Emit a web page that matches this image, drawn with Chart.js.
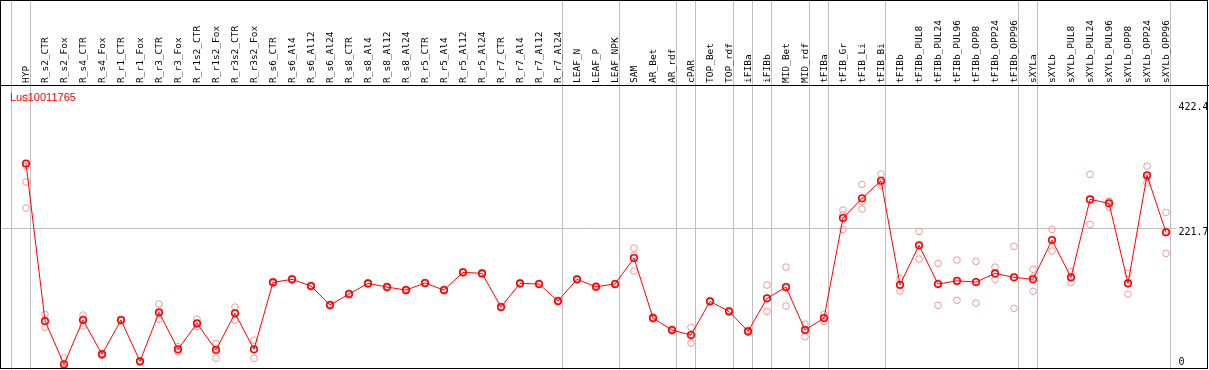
<!DOCTYPE html>
<html>
<head>
<meta charset="utf-8">
<script src="https://cdn.jsdelivr.net/npm/chart.js@4.4.1/dist/chart.umd.min.js"></script>
<style>
  body { margin: 0; background: #fff; }
  canvas { display: block; }
</style>
</head>
<body>
<canvas id="chart" width="1209" height="370"></canvas>
<script>
const geneName = 'Lus10011765';

const categories = [
  'HYP', 'R_s2_CTR', 'R_s2_Fox', 'R_s4_CTR', 'R_s4_Fox', 'R_r1_CTR', 'R_r1_Fox', 'R_r3_CTR', 'R_r3_Fox',
  'R_r1s2_CTR', 'R_r1s2_Fox', 'R_r3s2_CTR', 'R_r3s2_Fox', 'R_s6_CTR', 'R_s6_Al4', 'R_s6_Al12', 'R_s6_Al24',
  'R_s8_CTR', 'R_s8_Al4', 'R_s8_Al12', 'R_s8_Al24', 'R_r5_CTR', 'R_r5_Al4', 'R_r5_Al12', 'R_r5_Al24',
  'R_r7_CTR', 'R_r7_Al4', 'R_r7_Al12', 'R_r7_Al24', 'LEAF_N', 'LEAF_P', 'LEAF_NPK', 'SAM', 'AR_Bet', 'AR_rdf',
  'cPAR', 'TOP_Bet', 'TOP_rdf', 'iFIBa', 'iFIBb', 'MID_Bet', 'MID_rdf', 'tFIBa', 'tFIB_Gr', 'tFIB_Li', 'tFIB_Bi',
  'tFIBb', 'tFIBb_PUL8', 'tFIBb_PUL24', 'tFIBb_PUL96', 'tFIBb_OPP8', 'tFIBb_OPP24', 'tFIBb_OPP96',
  'sXYLa', 'sXYLb', 'sXYLb_PUL8', 'sXYLb_PUL24', 'sXYLb_PUL96', 'sXYLb_OPP8', 'sXYLb_OPP24', 'sXYLb_OPP96'
];

// mean expression per sample (red line)
const meanValues = [
  321.6, 78.9, 12.2, 80.4, 27.6, 80.4, 16.8, 92.3, 35.3, 75.3,
  34.2, 90.7, 35.3, 138.5, 143.1, 132.8, 103.5, 120.5, 136.9, 131.2,
  126.6, 137.4, 126.6, 153.9, 152.3, 100.4, 136.9, 135.9, 109.7, 143.1,
  131.7, 135.9, 175.9, 83.5, 65.0, 57.3, 109.2, 93.8, 63.0, 113.8,
  131.2, 65.0, 83.5, 237.5, 267.9, 295.0, 134.7, 195.5, 135.9, 140.9,
  138.9, 152.3, 146.2, 143.1, 203.6, 146.2, 266.3, 260.2, 136.9, 303.3, 215.5
];

// replicates (pink circles)
const rep1 = [
  422.4, 89.2, 22.3, 88.1, 29.0, 81.5, 18.0, 105.1, 39.3, 82.0,
  44.5, 100.4, 49.6, 140, 144.5, 134, 105, 122, 138, 132.5,
  128, 138.5, 128, 155, 153.5, 101.5, 138, 137, 111, 144,
  133, 137, 191.3, 85.5, 66.5, 69.2, 110.5, 95, 65, 134.3,
  162, 74.2, 89.2, 249.8, 289.4, 305.3, 144.6, 217, 167.7, 172.8,
  170.8, 162, 193.9, 158.5, 220.1, 154.8, 304.8, 262.6, 152.3, 317.6, 246.3
];
const rep2 = [
  252.9, 69.2, 8.0, 71.2, 26.0, 79.5, 15.5, 81.5, 31.6, 70.1,
  21.4, 80.4, 21.4, 137, 142, 131.5, 102, 119, 136, 130,
  125, 136.5, 125, 153, 151, 99.5, 136, 135, 108.5, 142,
  130.5, 135, 155.9, 82, 63.5, 45.0, 108, 92.5, 61.5, 93.8,
  102, 54.7, 77.8, 220.1, 251.4, 287.9, 125.1, 174.4, 103, 110.8,
  106.6, 143.1, 98.4, 124.6, 186.7, 138.5, 227.8, 254, 120.5, 291.9, 183.1
];
const rep3 = [
  293.0, 78.3, 6.3, 81.9, 27.8, 80.2, 16.9, 90.3, 35.0, 73.8,
  36.7, 91.3, 34.9, 138.5, 142.8, 133, 103.5, 120.5, 136.7, 131.1,
  126.8, 137.2, 126.8, 153.7, 152.4, 100.2, 136.7, 135.7, 109.6, 143.3,
  131.6, 135.7, 180.5, 83, 65, 57.7, 109.1, 93.9, 62.5, 113.3,
  129.6, 66.1, 83.5, 242.6, 262.9, 291.8, 134.4, 195.1, 137, 139.1,
  139.3, 151.8, 146.3, 146.2, 204, 145.3, 266.3, 264, 138, 300.4, 217.1
];
const rep4 = [318.1]; // only HYP has a fourth replicate

const yTicks = [0, 221.7, 422.4];
const gridLevel = 221.7;
// sample groups end after these indices (gray separators)
const groupEnds = [-1, 0, 28, 31, 34, 35, 37, 38, 39, 41, 42, 45, 52, 53, 60];

const repPoints = [];
[rep1, rep2, rep3, rep4].forEach(rep => {
  rep.forEach((v, i) => {
    if (v != null) repPoints.push({ x: categories[i], y: v });
  });
});

const MONO = '9.5px "DejaVu Sans Mono", monospace';

const decor = {
  id: 'decor',
  beforeDraw(chart) {
    const { ctx, chartArea: a, scales: { x, y } } = chart;
    ctx.save();
    ctx.fillStyle = '#fff';
    ctx.fillRect(0, 0, chart.width, chart.height);
    ctx.strokeStyle = '#c0c0c0';
    ctx.lineWidth = 1;
    groupEnds.forEach(k => {
      const px = Math.floor(x.getPixelForValue(k + 0.24)) + 0.5;
      ctx.beginPath();
      ctx.moveTo(px, 0);
      ctx.lineTo(px, chart.height);
      ctx.stroke();
    });
    const gy = Math.floor(y.getPixelForValue(gridLevel)) + 0.5;
    ctx.beginPath();
    ctx.moveTo(0, gy);
    ctx.lineTo(a.right + 1, gy);
    ctx.stroke();
    ctx.restore();
  },
  afterDraw(chart) {
    const { ctx, chartArea: a, scales: { x, y } } = chart;
    ctx.save();
    // frame and header line
    ctx.strokeStyle = '#000';
    ctx.lineWidth = 1;
    ctx.strokeRect(0.5, 0.5, chart.width - 2, chart.height - 2);
    ctx.beginPath();
    ctx.moveTo(0, a.top + 0.5);
    ctx.lineTo(chart.width, a.top + 0.5);
    ctx.stroke();

    // sample names, vertical
    ctx.font = MONO;
    ctx.fillStyle = '#000';
    ctx.textAlign = 'left';
    ctx.textBaseline = 'middle';
    categories.forEach((c, i) => {
      ctx.save();
      ctx.translate(x.getPixelForValue(i) + 1, a.top - 2);
      ctx.rotate(-Math.PI / 2);
      ctx.fillText(c, 0, 0);
      ctx.restore();
    });

    // value labels on the right, kept inside the plot
    ctx.font = '10px "DejaVu Sans Mono", monospace';
    yTicks.forEach(v => {
      let py = y.getPixelForValue(v) + 4;
      py = Math.max(a.top + 22, Math.min(a.bottom - 7, py));
      ctx.fillText(String(v), a.right + 3, py);
    });

    // gene name
    ctx.font = '11px "Liberation Sans", Arial, sans-serif';
    ctx.fillStyle = '#ff0000';
    ctx.textBaseline = 'alphabetic';
    ctx.fillText(geneName, 10, a.top + 16);
    ctx.restore();
  }
};

new Chart(document.getElementById('chart'), {
  type: 'line',
  data: {
    labels: categories,
    datasets: [
      {
        data: meanValues,
        borderColor: '#ff0000',
        borderWidth: 1,
        pointRadius: 3.3,
        pointBorderWidth: 1.6,
        pointBorderColor: '#ff0000',
        pointBackgroundColor: 'rgba(0,0,0,0)',
        tension: 0
      },
      {
        data: repPoints,
        showLine: false,
        pointRadius: 3.3,
        pointBorderWidth: 1,
        pointBorderColor: '#f09a9a',
        pointBackgroundColor: 'rgba(0,0,0,0)'
      }
    ]
  },
  options: {
    responsive: false,
    animation: false,
    devicePixelRatio: 1,
    layout: { autoPadding: false, padding: { left: 16.5, right: 0, top: 0, bottom: 1 } },
    plugins: { legend: { display: false }, tooltip: { enabled: false } },
    scales: {
      x: {
        type: 'category',
        position: 'top',
        offset: true,
        grid: { display: false },
        border: { display: false },
        ticks: { display: false },
        afterFit(scale) { scale.height = 85; }
      },
      y: {
        position: 'right',
        min: 5,
        max: 442.5,
        grid: { display: false },
        border: { display: false },
        ticks: { display: false },
        afterFit(scale) { scale.width = 33.5; }
      }
    }
  },
  plugins: [decor]
});
</script>
</body>
</html>
